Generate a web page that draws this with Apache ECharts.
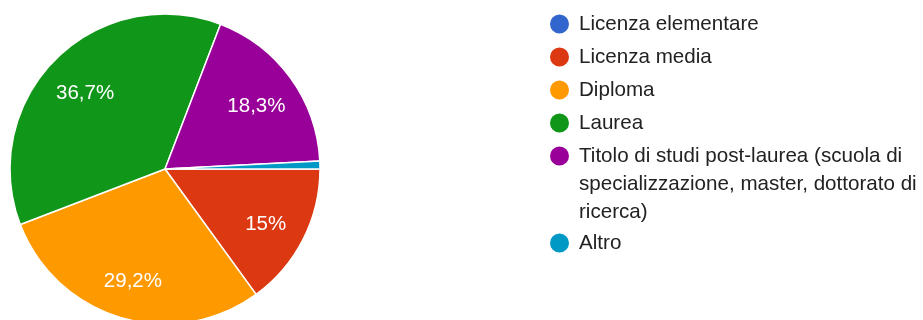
<!DOCTYPE html>
<html>
<head>
<meta charset="utf-8">
<script src="https://cdn.jsdelivr.net/npm/echarts@6/dist/echarts.min.js"></script>
<style>
  html, body { margin: 0; padding: 0; background: #fff; }
  #chart { width: 923px; height: 320px; }
</style>
</head>
<body>
<div id="chart"></div>
<script>
// Titolo di studio dei rispondenti
const categories = [
  'Licenza elementare',
  'Licenza media',
  'Diploma',
  'Laurea',
  'Titolo di studi post-laurea (scuola di\nspecializzazione, master, dottorato di\nricerca)',
  'Altro'
];
const counts = [0, 18, 35, 44, 22, 1];
const colors = ['#3366cc', '#dc3912', '#ff9900', '#109618', '#990099', '#0099c6'];

const total = counts.reduce((a, b) => a + b, 0);
const pieData = categories.map((name, i) => ({
  name: name,
  value: counts[i],
  itemStyle: { color: colors[i] }
}));

function pctLabel(p) {
  const v = p.value / total * 100;
  if (v < 5) return '';
  let s = (Math.round(v * 10) / 10).toFixed(1);
  if (s.endsWith('.0')) s = s.slice(0, -2);
  return s.replace('.', ',') + '%';
}

const font = 'Liberation Sans, Arial, Helvetica, sans-serif';
const legendText = {
  fontFamily: font,
  fontSize: 20.6,
  color: '#222222',
  lineHeight: 28,
  padding: [0, 0, 0, 4]
};
const legendBase = {
  orient: 'vertical',
  left: 548,
  padding: 0,
  icon: 'circle',
  itemWidth: 21,
  itemHeight: 21,
  itemGap: 5,
  selectedMode: false,
  textStyle: legendText
};
const legendItem = i => ({ name: categories[i], itemStyle: { color: colors[i] } });

const chart = echarts.init(document.getElementById('chart'), null, { renderer: 'canvas' });
chart.setOption({
  animation: false,
  backgroundColor: '#ffffff',
  legend: [
    Object.assign({}, legendBase, { top: 10, data: [0, 1, 2, 3].map(legendItem) }),
    Object.assign({}, legendBase, {
      // two empty lines above keep the marker beside the first line of the wrapped name
      top: 86,
      data: [legendItem(4)],
      formatter: name => '\n\n' + name
    }),
    Object.assign({}, legendBase, { top: 229, data: [legendItem(5)] })
  ],
  series: [
    {
      type: 'pie',
      center: [165, 169],
      radius: 155,
      startAngle: 0,
      clockwise: true,
      silent: true,
      label: { show: false },
      labelLine: { show: false },
      itemStyle: { borderColor: '#ffffff', borderWidth: 1.5 },
      data: pieData
    },
    {
      // transparent ring used only to place the percentage labels
      type: 'pie',
      center: [165, 169],
      radius: [65, 155],
      startAngle: 0,
      clockwise: true,
      silent: true,
      itemStyle: { color: 'rgba(0,0,0,0)', borderWidth: 0 },
      label: {
        show: true,
        position: 'inside',
        formatter: pctLabel,
        color: '#ffffff',
        fontFamily: font,
        fontSize: 20.5,
        offset: [0, 4]
      },
      labelLine: { show: false },
      data: categories.map((name, i) => ({ name: name, value: counts[i] }))
    }
  ]
});
</script>
</body>
</html>
